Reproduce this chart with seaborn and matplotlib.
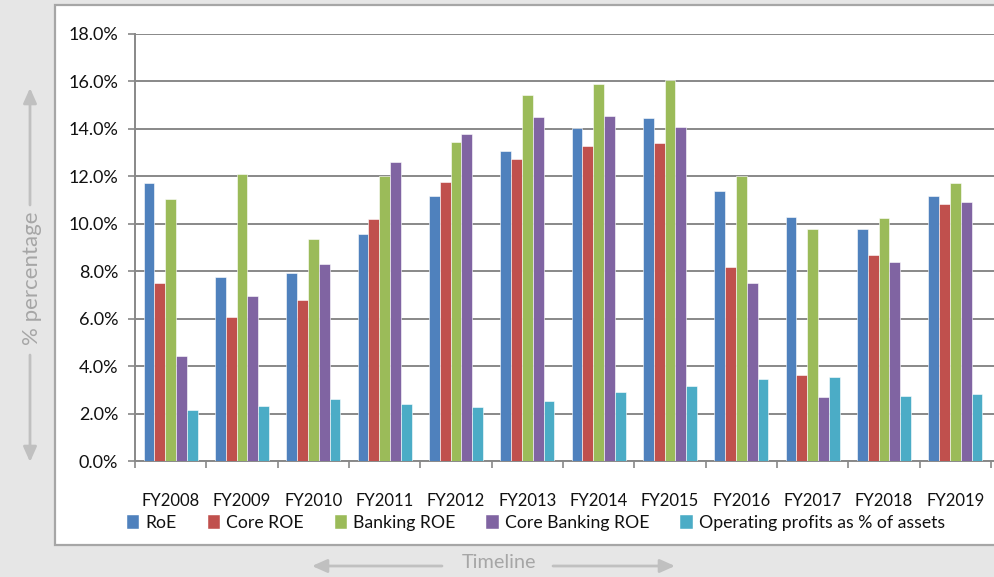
import matplotlib
matplotlib.use("Agg")
import matplotlib.pyplot as plt
import matplotlib.patches as mpatches
import seaborn as sns
import pandas as pd
import numpy as np

years = ["FY2008", "FY2009", "FY2010", "FY2011", "FY2012", "FY2013",
         "FY2014", "FY2015", "FY2016", "FY2017", "FY2018", "FY2019"]
series_names = ["RoE", "Core ROE", "Banking ROE", "Core Banking ROE",
                "Operating profits as % of assets"]
roe = [11.70, 7.76, 7.91, 9.57, 11.16, 13.05, 14.03, 14.47, 11.38, 10.27, 9.80, 11.15]
core_roe = [7.52, 6.05, 6.80, 10.22, 11.78, 12.75, 13.28, 13.39, 8.16, 3.64, 8.70, 10.85]
banking_roe = [11.06, 12.10, 9.35, 12.03, 13.45, 15.43, 15.89, 16.05, 12.02, 9.80, 10.26, 11.70]
core_banking_roe = [4.44, 6.97, 8.32, 12.59, 13.77, 14.49, 14.56, 14.07, 7.52, 2.68, 8.38, 10.92]
op_profit = [2.15, 2.31, 2.63, 2.39, 2.27, 2.52, 2.91, 3.16, 3.47, 3.54, 2.76, 2.84]
y_ticks = [0, 2, 4, 6, 8, 10, 12, 14, 16, 18]
colors = ["#4F81BD", "#C0504D", "#9BBB59", "#8064A2", "#4BACC6"]

all_series = [roe, core_roe, banking_roe, core_banking_roe, op_profit]
df = pd.DataFrame({
    "year": np.repeat([years], len(series_names), axis=0).ravel(),
    "series": np.repeat(series_names, len(years)),
    "value": np.concatenate(all_series),
})

sns.set_style("white")
plt.rcParams["font.family"] = ["Lato", "DejaVu Sans"]

W, H = 995, 577
fig = plt.figure(figsize=(W / 100, H / 100), dpi=100)
fig.patch.set_facecolor("#e6e6e6")

# white chart panel
panel = mpatches.Rectangle((55 / W, 1 - 545 / H), 1.0, (545 - 5) / H,
                           transform=fig.transFigure, facecolor="white",
                           edgecolor="#a6a6a6", lw=1.6, zorder=-5)
fig.patches.append(panel)

ax = fig.add_axes([135 / W, 1 - 461 / H, (995 - 135) / W, (461 - 34) / H])
ax.set_facecolor("white")
sns.barplot(data=df, x="year", y="value", hue="series", hue_order=series_names,
            order=years, palette=colors, width=0.76, ax=ax, legend=False,
            edgecolor="white", linewidth=0.4, saturation=1, zorder=3)

ax.set_ylim(0, 18)
ax.set_xlim(-0.5, 11.5 + 4 / 71.3)
ax.set_yticks(y_ticks)
ax.set_yticklabels([f"{v:.1f}%" for v in y_ticks])
ax.yaxis.grid(True, color="#888888", lw=1.4, zorder=1)
ax.set_axisbelow(True)
ax.set_xlabel("")
ax.set_ylabel("")
for s in ["top", "right"]:
    ax.spines[s].set_visible(False)
ax.spines["left"].set_color("#888888")
ax.spines["left"].set_linewidth(1.4)
ax.spines["bottom"].set_color("#888888")
ax.spines["bottom"].set_linewidth(1.4)

ax.set_xticks(range(len(years)))
ax.set_xticklabels(years)
ax.set_xticks(np.arange(-0.5, len(years)), minor=True)
ax.tick_params(axis="x", which="major", length=0, pad=23, labelsize=12,
               labelcolor="#111111")
ax.tick_params(axis="x", which="minor", length=5, width=1.2, color="#888888",
               direction="out", bottom=True)
ax.tick_params(axis="y", length=5, width=1.2, color="#888888", pad=7,
               labelsize=13, left=True, labelcolor="#111111")

handles = [mpatches.Patch(facecolor=c, edgecolor="white", lw=0.3) for c in colors]
fig.legend(handles, series_names, loc="center", ncol=5,
           bbox_to_anchor=(536 / W, 1 - 523 / H), frameon=False,
           fontsize=12.7, handlelength=0.7, handleheight=0.8,
           handletextpad=0.35, columnspacing=1.75, labelcolor="#111111")

# side decorations
gray_txt = "#a6a6a6"
arrow_c = "#c0c0c0"
fig.text(32 / W, 1 - 278 / H, "% percentage", rotation=90, ha="center",
         va="center", fontsize=16, color=gray_txt)
fig.text(499 / W, 1 - 562 / H, "Timeline", ha="center", va="center",
         fontsize=14.3, color=gray_txt)

def arrow(x0, y0, x1, y1):
    ax.annotate("", xy=(x1, H - y1), xytext=(x0, H - y0),
                xycoords="figure pixels", textcoords="figure pixels",
                arrowprops=dict(arrowstyle="-|>,head_length=0.9,head_width=0.4",
                                color=arrow_c, lw=2, shrinkA=0, shrinkB=0),
                annotation_clip=False)

arrow(30, 205, 30, 88)
arrow(30, 355, 30, 462)
arrow(442, 566, 312, 566)
arrow(553, 566, 675, 566)

fig.savefig("out.png", dpi=100, facecolor=fig.get_facecolor())
